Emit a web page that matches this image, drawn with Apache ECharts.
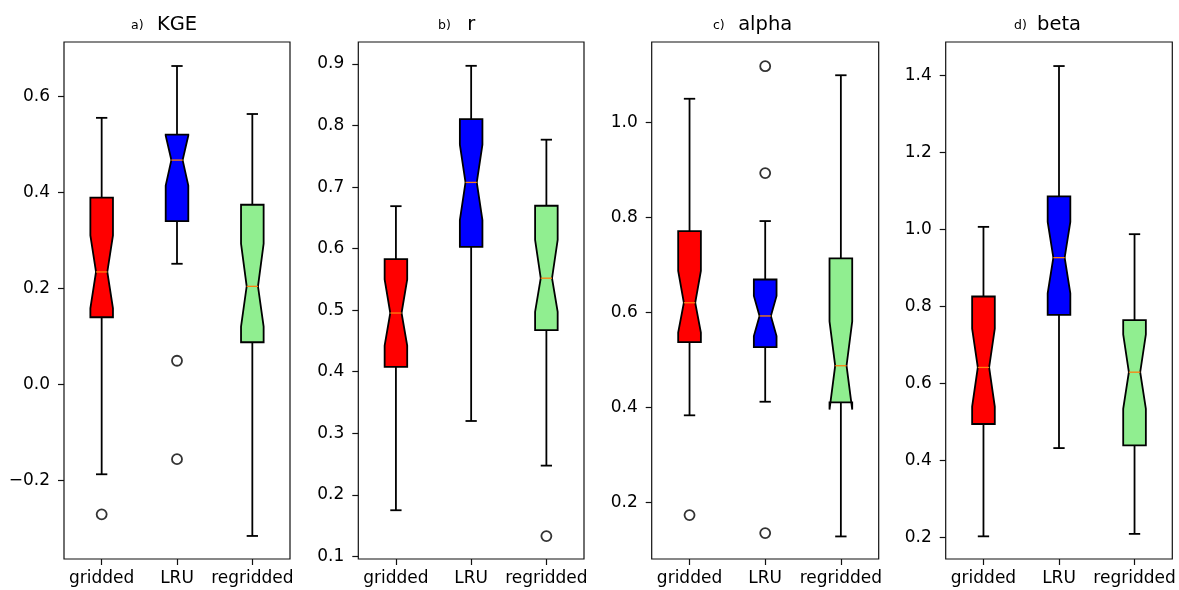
<!DOCTYPE html>
<html>
<head>
<meta charset="utf-8">
<script src="https://cdn.jsdelivr.net/npm/echarts@6/dist/echarts.min.js"></script>
<style>
html,body{margin:0;padding:0;background:#fff;}
#chart{width:1179px;height:590px;}
</style>
</head>
<body>
<div id="chart"></div>
<script>
// ---- data ----
const categories = ['gridded', 'LRU', 'regridded'];
const boxColors = ['#ff0000', '#0000ff', '#90ee90'];
const panelTitles = ['KGE', 'r', 'alpha', 'beta'];
const panelLetters = ['a)', 'b)', 'c)', 'd)'];

// stats per category: [whiskerLow, Q1, median, Q3, whiskerHigh, notchLow, notchHigh]
const kgeStats = [
  [-0.1875, 0.1396, 0.234, 0.389, 0.555, 0.158, 0.310],
  [0.251, 0.340, 0.467, 0.520, 0.663, 0.414, 0.518],
  [-0.316, 0.0875, 0.204, 0.374, 0.563, 0.120, 0.293]
];
const kgeOutliers = [[0, -0.271], [1, 0.049], [1, -0.156]];
const kgeTicks = [-0.2, 0.0, 0.2, 0.4, 0.6];

const rStats = [
  [0.175, 0.408, 0.4954, 0.583, 0.669, 0.4424, 0.550],
  [0.320, 0.603, 0.7076, 0.8105, 0.897, 0.6465, 0.769],
  [0.2475, 0.4676, 0.552, 0.6697, 0.777, 0.4973, 0.6141]
];
const rOutliers = [[2, 0.133]];
const rTicks = [0.1, 0.2, 0.3, 0.4, 0.5, 0.6, 0.7, 0.8, 0.9];

const alphaStats = [
  [0.384, 0.538, 0.621, 0.772, 1.0505, 0.558, 0.688],
  [0.4126, 0.5275, 0.5932, 0.670, 0.793, 0.551, 0.6353],
  [0.129, 0.4114, 0.4884, 0.7145, 1.100, 0.396, 0.5817]
];
const alphaOutliers = [[0, 0.174], [1, 1.119], [1, 0.894], [1, 0.136]];
const alphaTicks = [0.2, 0.4, 0.6, 0.8, 1.0];

const betaStats = [
  [0.2026, 0.4946, 0.6416, 0.826, 1.007, 0.540, 0.7426],
  [0.432, 0.778, 0.927, 1.0864, 1.425, 0.834, 1.0199],
  [0.209, 0.439, 0.6293, 0.7645, 0.988, 0.534, 0.7273]
];
const betaOutliers = [];
const betaTicks = [0.2, 0.4, 0.6, 0.8, 1.0, 1.2, 1.4];

const yRanges = [[-0.364, 0.713], [0.0958, 0.9357], [0.0815, 1.170], [0.1437, 1.4875]];

// ---- layout ----
const panels = [
  {stats: kgeStats, out: kgeOutliers, ticks: kgeTicks},
  {stats: rStats, out: rOutliers, ticks: rTicks},
  {stats: alphaStats, out: alphaOutliers, ticks: alphaTicks},
  {stats: betaStats, out: betaOutliers, ticks: betaTicks}
];
const gridLefts = [64, 358.3, 651.7, 945.7];
const gridWidths = [226, 225.7, 227, 226.6];
const letterX = [131, 438, 713, 1014];
const FONT = 'DejaVu Sans';
const LW = 1.8;

const grids = [], xAxes = [], yAxes = [], series = [], titles = [];
panels.forEach((p, g) => {
  grids.push({left: gridLefts[g], width: gridWidths[g], top: 42, height: 517,
    show: true, borderColor: '#111', borderWidth: 1.2, backgroundColor: 'transparent'});
  xAxes.push({type: 'category', gridIndex: g, data: categories, boundaryGap: true,
    position: 'bottom',
    axisLine: {show: false, onZero: false},
    axisTick: {show: true, alignWithLabel: true, length: 6, lineStyle: {color: '#111', width: 1.2}},
    axisLabel: {color: '#000', fontSize: 17, fontFamily: FONT, margin: 11, interval: 0},
    splitLine: {show: false}});
  yAxes.push({type: 'value', gridIndex: g, min: yRanges[g][0], max: yRanges[g][1],
    position: 'left',
    axisLine: {show: false, onZero: false},
    axisTick: {show: true, length: 6, customValues: p.ticks, lineStyle: {color: '#111', width: 1.2}},
    axisLabel: {color: '#000', fontSize: 17, fontFamily: FONT, margin: 14, customValues: p.ticks,
      formatter: v => Number(v).toFixed(1).replace('-', '\u2212')},
    splitLine: {show: false}});
  const center = gridLefts[g] + gridWidths[g] / 2;
  titles.push({text: panelTitles[g], left: center, top: 15, textAlign: 'center', padding: 0,
    textStyle: {fontSize: 19.5, fontWeight: 'normal', color: '#000', fontFamily: FONT}});
  titles.push({text: panelLetters[g], left: letterX[g], top: 19, textAlign: 'left', padding: 0,
    textStyle: {fontSize: 12.5, fontWeight: 'normal', color: '#000', fontFamily: FONT}});

  series.push({
    type: 'custom', xAxisIndex: g, yAxisIndex: g,
    data: p.stats.map((s, i) => [i].concat(s)),
    encode: {x: 0, y: [1, 2, 3, 4, 5, 6, 7]},
    renderItem: function (params, api) {
      const i = api.value(0);
      const x = api.coord([i, 0])[0];
      const Y = v => api.coord([i, v])[1];
      const w = api.size([1, 0])[0] * 0.3;
      const lo = api.value(1), q1 = api.value(2), med = api.value(3), q3 = api.value(4),
            hi = api.value(5), nlo = api.value(6), nhi = api.value(7);
      const L = x - w / 2, R = x + w / 2, cl = x - w / 4, cr = x + w / 4;
      const ls = {stroke: '#000', lineWidth: LW};
      return {type: 'group', children: [
        {type: 'line', shape: {x1: x, y1: Y(q1), x2: x, y2: Y(lo)}, style: ls},
        {type: 'line', shape: {x1: x, y1: Y(q3), x2: x, y2: Y(hi)}, style: ls},
        {type: 'line', shape: {x1: cl, y1: Y(lo), x2: cr, y2: Y(lo)}, style: ls},
        {type: 'line', shape: {x1: cl, y1: Y(hi), x2: cr, y2: Y(hi)}, style: ls},
        {type: 'polygon', shape: {points: [
          [L, Y(q1)], [L, Y(nlo)], [cl, Y(med)], [L, Y(nhi)], [L, Y(q3)],
          [R, Y(q3)], [R, Y(nhi)], [cr, Y(med)], [R, Y(nlo)], [R, Y(q1)]
        ]}, style: {fill: boxColors[i], stroke: '#000', lineWidth: LW}},
        {type: 'line', shape: {x1: cl, y1: Y(med), x2: cr, y2: Y(med)},
          style: {stroke: '#ff7f0e', lineWidth: 1.3}}
      ]};
    }
  });
  series.push({
    type: 'scatter', xAxisIndex: g, yAxisIndex: g, data: p.out,
    symbol: 'circle', symbolSize: 10,
    itemStyle: {color: 'rgba(255,255,255,0)', borderColor: '#000', borderWidth: 1.8}
  });
});

const chart = echarts.init(document.getElementById('chart'), null, {renderer: 'canvas'});
chart.setOption({
  animation: false,
  backgroundColor: '#fff',
  title: titles,
  grid: grids,
  xAxis: xAxes,
  yAxis: yAxes,
  series: series
});
</script>
</body>
</html>
